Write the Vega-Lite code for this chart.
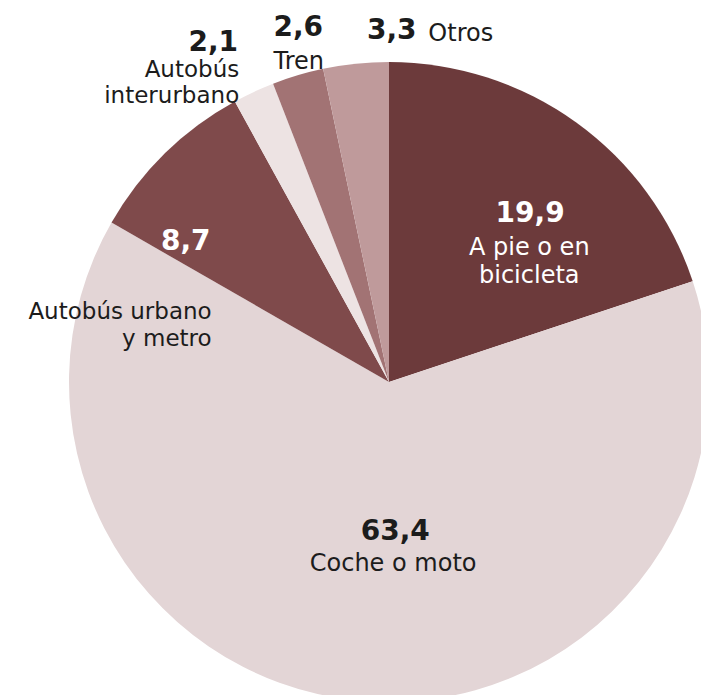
{
  "$schema": "https://vega.github.io/schema/vega-lite/v6.json",
  "width": 624,
  "height": 626,
  "padding": {"left": 77, "top": 69, "right": 0, "bottom": 0},
  "autosize": {"type": "none"},
  "background": "white",
  "config": {
    "view": {"stroke": null},
    "locale": {"number": {"decimal": ",", "thousands": ".", "grouping": [3], "currency": ["", " €"]}},
    "text": {"font": "DejaVu Sans", "baseline": "alphabetic"}
  },
  "data": {
    "values": [
      {"categoria": "A pie o en bicicleta", "rotulo": "A pie o en\nbicicleta", "valor": 19.9, "orden": 1},
      {"categoria": "Coche o moto", "rotulo": "Coche o moto", "valor": 63.4, "orden": 2},
      {"categoria": "Autobús urbano y metro", "rotulo": "Autobús urbano\ny metro", "valor": 8.7, "orden": 3},
      {"categoria": "Autobús interurbano", "rotulo": "Autobús\ninterurbano", "valor": 2.1, "orden": 4},
      {"categoria": "Tren", "rotulo": "Tren", "valor": 2.6, "orden": 5},
      {"categoria": "Otros", "rotulo": "Otros", "valor": 3.3, "orden": 6}
    ]
  },
  "encoding": {
    "theta": {"field": "valor", "type": "quantitative", "stack": true},
    "order": {"field": "orden", "type": "quantitative"},
    "detail": {"field": "categoria", "type": "nominal"}
  },
  "layer": [
    {
      "mark": {"type": "arc", "radius": 320},
      "encoding": {
        "color": {
          "field": "categoria",
          "type": "nominal",
          "legend": null,
          "scale": {
            "domain": ["A pie o en bicicleta", "Coche o moto", "Autobús urbano y metro", "Autobús interurbano", "Tren", "Otros"],
            "range": ["#6c3a3b", "#e3d5d6", "#7f4a4b", "#ede3e3", "#a27374", "#bf9a9b"]
          }
        }
      }
    },
    {
      "mark": {"type": "text", "radius": 212, "dx": 17, "dy": 12, "fontSize": 28, "fontWeight": "bold", "fill": "#ffffff", "align": "center"},
      "encoding": {"text": {"condition": {"test": "datum.categoria === 'A pie o en bicicleta'", "field": "valor", "type": "quantitative", "format": ".1f"}, "value": ""}}
    },
    {
      "mark": {"type": "text", "radius": 157, "dx": 22, "dy": 2, "fontSize": 28, "fontWeight": "bold", "fill": "#1c1c1c", "align": "center"},
      "encoding": {"text": {"condition": {"test": "datum.categoria === 'Coche o moto'", "field": "valor", "type": "quantitative", "format": ".1f"}, "value": ""}}
    },
    {
      "mark": {"type": "text", "radius": 236, "dx": -38, "dy": 36, "fontSize": 28, "fontWeight": "bold", "fill": "#ffffff", "align": "center"},
      "encoding": {"text": {"condition": {"test": "datum.categoria === 'Autobús urbano y metro'", "field": "valor", "type": "quantitative", "format": ".1f"}, "value": ""}}
    },
    {
      "mark": {"type": "text", "radius": 364, "dx": 3, "dy": -1, "fontSize": 28, "fontWeight": "bold", "fill": "#1c1c1c", "align": "right"},
      "encoding": {"text": {"condition": {"test": "datum.categoria === 'Autobús interurbano'", "field": "valor", "type": "quantitative", "format": ".1f"}, "value": ""}}
    },
    {
      "mark": {"type": "text", "radius": 357, "dx": 11, "dy": -4, "fontSize": 28, "fontWeight": "bold", "fill": "#1c1c1c", "align": "center"},
      "encoding": {"text": {"condition": {"test": "datum.categoria === 'Tren'", "field": "valor", "type": "quantitative", "format": ".1f"}, "value": ""}}
    },
    {
      "mark": {"type": "text", "radius": 341, "dx": 38, "dy": -4, "fontSize": 28, "fontWeight": "bold", "fill": "#1c1c1c", "align": "center"},
      "encoding": {"text": {"condition": {"test": "datum.categoria === 'Otros'", "field": "valor", "type": "quantitative", "format": ".1f"}, "value": ""}}
    },
    {
      "mark": {"type": "text", "radius": 185, "dx": 32, "dy": 23, "fontSize": 24, "fill": "#ffffff", "align": "center", "lineBreak": "\n", "lineHeight": 28},
      "encoding": {"text": {"condition": {"test": "datum.categoria === 'A pie o en bicicleta'", "field": "rotulo", "type": "nominal"}, "value": ""}}
    },
    {
      "mark": {"type": "text", "radius": 188, "dx": 23, "dy": 2, "fontSize": 24, "fill": "#1c1c1c", "align": "center", "lineBreak": "\n", "lineHeight": 27},
      "encoding": {"text": {"condition": {"test": "datum.categoria === 'Coche o moto'", "field": "rotulo", "type": "nominal"}, "value": ""}}
    },
    {
      "mark": {"type": "text", "radius": 169, "dx": -59, "dy": 58, "fontSize": 23, "fill": "#1c1c1c", "align": "right", "lineBreak": "\n", "lineHeight": 27},
      "encoding": {"text": {"condition": {"test": "datum.categoria === 'Autobús urbano y metro'", "field": "rotulo", "type": "nominal"}, "value": ""}}
    },
    {
      "mark": {"type": "text", "radius": 340, "dx": -6, "dy": 3, "fontSize": 23, "fill": "#1c1c1c", "align": "right", "lineBreak": "\n", "lineHeight": 26},
      "encoding": {"text": {"condition": {"test": "datum.categoria === 'Autobús interurbano'", "field": "rotulo", "type": "nominal"}, "value": ""}}
    },
    {
      "mark": {"type": "text", "radius": 327, "dx": 3, "dy": 0, "fontSize": 24, "fill": "#1c1c1c", "align": "center", "lineBreak": "\n", "lineHeight": 26},
      "encoding": {"text": {"condition": {"test": "datum.categoria === 'Tren'", "field": "rotulo", "type": "nominal"}, "value": ""}}
    },
    {
      "mark": {"type": "text", "radius": 335, "dx": 74, "dy": -8, "fontSize": 24, "fill": "#1c1c1c", "align": "left", "lineBreak": "\n", "lineHeight": 26},
      "encoding": {"text": {"condition": {"test": "datum.categoria === 'Otros'", "field": "rotulo", "type": "nominal"}, "value": ""}}
    }
  ]
}
